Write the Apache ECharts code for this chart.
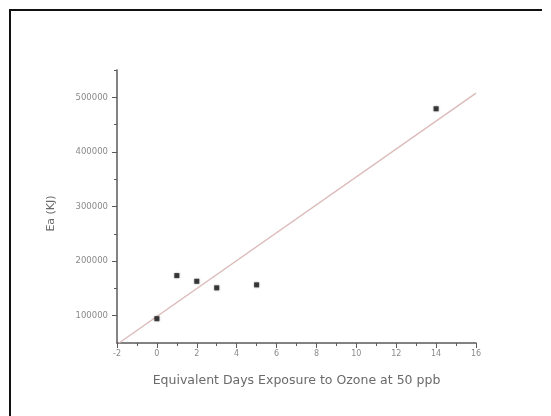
<!DOCTYPE html>
<html>
<head>
<meta charset="utf-8">
<script src="https://cdn.jsdelivr.net/npm/echarts@6/dist/echarts.min.js"></script>
<style>
html,body{margin:0;padding:0;background:#fff;}
#c{width:551px;height:416px;}
</style>
</head>
<body>
<div id="c"></div>
<script>
// Data
const daysX = [0, 1, 2, 3, 5, 14];
const eaY = [94500, 173500, 163000, 151000, 156500, 479000];
const fitX = [-1.9, 16];
const fitY = [50000, 507500];
const xTicks = [-2, 0, 2, 4, 6, 8, 10, 12, 14, 16];
const yMajorTicks = [100000, 200000, 300000, 400000, 500000];
const yMinorTicks = [150000, 250000, 350000, 450000, 550000];

const chart = echarts.init(document.getElementById('c'), null, {renderer: 'canvas'});
const axisColor = '#5a5a5a';
const labelColor = '#8a8a8a';
chart.setOption({
  animation: false,
  backgroundColor: '#fff',
  grid: {left: 117, right: 75, top: 70, bottom: 73},
  xAxis: {
    type: 'value', min: xTicks[0], max: xTicks[xTicks.length - 1], interval: 2,
    name: 'Equivalent Days Exposure to Ozone at 50 ppb',
    nameLocation: 'middle', nameGap: 31,
    nameTextStyle: {fontFamily: 'DejaVu Sans', fontSize: 12.5, color: '#6a6a6a'},
    axisLine: {onZero: false, lineStyle: {color: axisColor, width: 1.5}},
    axisTick: {length: 5, lineStyle: {color: axisColor}},
    minorTick: {show: true, splitNumber: 2, length: 3, lineStyle: {color: axisColor}},
    axisLabel: {fontFamily: 'DejaVu Sans', fontSize: 8, color: labelColor, margin: 7},
    splitLine: {show: false}
  },
  yAxis: [{
    type: 'value', min: 50000, max: 550000,
    name: 'Ea (KJ)', nameLocation: 'middle', nameGap: 60, nameRotate: 90,
    nameTextStyle: {fontFamily: 'DejaVu Sans', fontSize: 11, color: '#6a6a6a', padding: [0, 0, 0, -14]},
    axisLine: {onZero: false, lineStyle: {color: axisColor, width: 1.5}},
    axisTick: {length: 5, customValues: yMajorTicks, lineStyle: {color: axisColor}},
    axisLabel: {fontFamily: 'DejaVu Sans', fontSize: 8.5, color: labelColor, margin: 9,
      customValues: yMajorTicks, formatter: v => String(v)},
    splitLine: {show: false}
  }, {
    type: 'value', min: 50000, max: 550000, position: 'left',
    axisLine: {show: false, onZero: false},
    axisTick: {length: 3, customValues: yMinorTicks, lineStyle: {color: axisColor}},
    axisLabel: {show: false},
    splitLine: {show: false}
  }],
  series: [{
    type: 'line',
    data: fitX.map((x, i) => [x, fitY[i]]),
    symbol: 'none',
    lineStyle: {color: '#dcbcbc', width: 1.5},
    z: 1
  }, {
    type: 'scatter',
    data: daysX.map((x, i) => [x, eaY[i]]),
    symbol: 'rect', symbolSize: 5,
    itemStyle: {color: '#1a1a1a', shadowBlur: 2, shadowColor: 'rgba(0,0,0,0.5)'},
    z: 3
  }],
  graphic: [
    {type: 'line', shape: {x1: 9, y1: 10, x2: 542, y2: 10}, style: {stroke: '#111', lineWidth: 2}},
    {type: 'line', shape: {x1: 10, y1: 9, x2: 10, y2: 416}, style: {stroke: '#111', lineWidth: 2}}
  ]
});
</script>
</body>
</html>
